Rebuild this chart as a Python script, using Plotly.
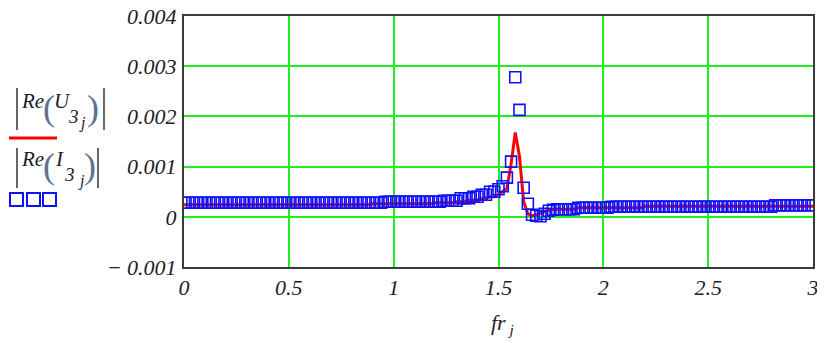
import numpy as np
import plotly.graph_objects as go

# x grid: fr_j
fr = np.linspace(0, 3, 151)

# |Re(U3_j)|  (red line)
re_u3 = [
    0.00024, 0.00024, 0.00024, 0.00024, 0.00024, 0.00024, 0.00024, 0.00024, 0.00024, 0.00024,
    0.00024, 0.00024, 0.00024, 0.00024, 0.00024, 0.00024, 0.00024, 0.00024, 0.00024, 0.00024,
    0.00024, 0.00024, 0.00024, 0.00024, 0.00024, 0.00024, 0.00024, 0.00024, 0.00024, 0.00024,
    0.00024, 0.00024, 0.00024, 0.00024, 0.00024, 0.00024, 0.00024, 0.00024, 0.00024, 0.00024,
    0.00024, 0.00024, 0.00024, 0.00024, 0.00024, 0.00026, 0.00026, 0.00026, 0.00026, 0.00026,
    0.00026, 0.00026, 0.00026, 0.00026, 0.00026, 0.00026, 0.00026, 0.00026, 0.00026, 0.00026,
    0.00028, 0.00028, 0.00028, 0.00028, 0.00028, 0.00030, 0.00030, 0.00030, 0.00033, 0.00033,
    0.00033, 0.00036, 0.00036, 0.00040, 0.00040, 0.00045, 0.00050, 0.00056, 0.00105, 0.00168,
    0.00120, 0.00030, 0.00006, 0.00002, 0.00004, 0.00008, 0.00011, 0.00013, 0.00015, 0.00015,
    0.00015, 0.00015, 0.00015, 0.00015, 0.00018, 0.00018, 0.00018, 0.00018, 0.00018, 0.00018,
    0.00018, 0.00018, 0.00018, 0.00018, 0.00018, 0.00018, 0.00018, 0.00018, 0.00018, 0.00018,
    0.00021, 0.00021, 0.00021, 0.00021, 0.00021, 0.00021, 0.00021, 0.00021, 0.00021, 0.00021,
    0.00021, 0.00021, 0.00021, 0.00021, 0.00021, 0.00021, 0.00021, 0.00021, 0.00021, 0.00021,
    0.00021, 0.00021, 0.00021, 0.00021, 0.00021, 0.00021, 0.00021, 0.00021, 0.00021, 0.00021,
    0.00021, 0.00021, 0.00021, 0.00021, 0.00021, 0.00021, 0.00021, 0.00021, 0.00021, 0.00021,
    0.00021,
]

# |Re(I3_j)|  (blue squares)
re_i3 = [
    0.00028, 0.00028, 0.00028, 0.00028, 0.00028, 0.00028, 0.00028, 0.00028, 0.00028, 0.00028,
    0.00028, 0.00028, 0.00028, 0.00028, 0.00028, 0.00028, 0.00028, 0.00028, 0.00028, 0.00028,
    0.00028, 0.00028, 0.00028, 0.00028, 0.00028, 0.00028, 0.00028, 0.00028, 0.00028, 0.00028,
    0.00028, 0.00028, 0.00028, 0.00028, 0.00028, 0.00028, 0.00028, 0.00028, 0.00028, 0.00028,
    0.00028, 0.00028, 0.00028, 0.00028, 0.00028, 0.00028, 0.00028, 0.00028, 0.00030, 0.00030,
    0.00030, 0.00030, 0.00030, 0.00030, 0.00030, 0.00030, 0.00030, 0.00030, 0.00030, 0.00030,
    0.00030, 0.00030, 0.00032, 0.00032, 0.00032, 0.00032, 0.00037, 0.00037, 0.00037, 0.00040,
    0.00040, 0.00044, 0.00044, 0.00050, 0.00050, 0.00055, 0.00061, 0.00078, 0.00110, 0.00278,
    0.00213, 0.00058, 0.00026, 0.00004, 0.00002, 0.00001, 0.00006, 0.00012, 0.00014, 0.00015,
    0.00015, 0.00015, 0.00015, 0.00015, 0.00018, 0.00018, 0.00018, 0.00018, 0.00018, 0.00018,
    0.00018, 0.00018, 0.00020, 0.00020, 0.00020, 0.00020, 0.00020, 0.00020, 0.00020, 0.00020,
    0.00020, 0.00020, 0.00020, 0.00020, 0.00020, 0.00020, 0.00020, 0.00020, 0.00020, 0.00020,
    0.00020, 0.00020, 0.00020, 0.00020, 0.00020, 0.00020, 0.00020, 0.00020, 0.00020, 0.00020,
    0.00020, 0.00020, 0.00020, 0.00020, 0.00020, 0.00020, 0.00020, 0.00020, 0.00020, 0.00020,
    0.00020, 0.00023, 0.00023, 0.00023, 0.00023, 0.00023, 0.00023, 0.00023, 0.00023, 0.00023,
    0.00023,
]

x_tickvals = [0, 0.5, 1, 1.5, 2, 2.5, 3]
x_ticktext = ["0", "0.5", "1", "1.5", "2", "2.5", "3"]
y_tickvals = [-0.001, 0, 0.001, 0.002, 0.003, 0.004]
y_ticktext = ["\u2212 0.001", "0", "0.001", "0.002", "0.003", "0.004"]

# page has an 8px body margin; plot area wanted at page x 184..813, y 16..267
W, H = 825, 343
OFF = 8
PL, PT, PR, PB = 184, 16, 813, 267
PW, PH = PR - PL, PB - PT
ML, MT = PL - OFF, PT - OFF
MR, MB = W - ML - PW, H - MT - PH


def px(x):
    return (x - PL) / PW


def py(y):
    return (PB - y) / PH


SERIF = "Liberation Serif"
TXT = "#1c1c2a"
GREEN = "#1ef01e"

fig = go.Figure()
fig.add_trace(go.Scatter(
    x=fr, y=re_u3, mode="lines",
    line=dict(color="#ff0000", width=3), showlegend=False,
))
fig.add_trace(go.Scatter(
    x=fr, y=re_i3, mode="markers",
    marker=dict(symbol="square-open", size=11, color="#1010ff", line=dict(width=1.6)),
    showlegend=False,
))

axis_common = dict(
    showline=True, mirror=True, linecolor="#3a3a3a", linewidth=2,
    showgrid=True, gridcolor=GREEN, gridwidth=2, zeroline=False, automargin=False,
    ticks="", ticklabeloverflow="allow",
    tickfont=dict(family=SERIF, size=22, color=TXT, style="italic"),
)

fig.update_xaxes(range=[0, 3], tickvals=x_tickvals, ticktext=x_ticktext, **axis_common)
fig.update_yaxes(range=[-0.001, 0.004], tickvals=y_tickvals, ticktext=y_ticktext,
                 ticklabelstandoff=1, **axis_common)

ann = []
shapes = []


def text(t, x, y, size, italic=True, color=TXT):
    ann.append(dict(
        text=t, x=px(x), y=py(y), xref="paper", yref="paper",
        xanchor="left", yanchor="middle", showarrow=False,
        font=dict(family=SERIF, size=size, color=color, style="italic" if italic else "normal"),
    ))


def vline(x, y0, y1, color="#333333", width=1.5):
    shapes.append(dict(type="line", xref="paper", yref="paper",
                       x0=px(x), x1=px(x), y0=py(y0), y1=py(y1),
                       line=dict(color=color, width=width)))


# x-axis title fr_j
ann.append(dict(
    text="<i>fr</i><sub><i> j</i></sub>", x=px(502), y=py(324), xref="paper", yref="paper",
    xanchor="center", yanchor="middle", showarrow=False,
    font=dict(family=SERIF, size=22, color=TXT),
))

PAREN = "#5d7390"
# |Re(U3_j)|
vline(17, 88, 130)
text("Re", 19, 101, 21)
text("(", 41, 108, 36, italic=False, color=PAREN)
text("U", 52, 101, 21)
text("3", 66, 116, 19)
text("j", 77, 123, 16)
text(")", 85, 108, 36, italic=False, color=PAREN)
vline(104, 88, 130)
shapes.append(dict(type="line", xref="paper", yref="paper",
                   x0=px(9), x1=px(57), y0=py(138), y1=py(138),
                   line=dict(color="#ff0000", width=3)))

# |Re(I3_j)|
vline(17, 148, 188)
text("Re", 19, 159, 21)
text("(", 41, 166, 36, italic=False, color=PAREN)
text("I", 53, 159, 21)
text("3", 62, 174, 19)
text("j", 76, 181, 16)
text(")", 82, 166, 36, italic=False, color=PAREN)
vline(98, 148, 188)
for x0 in (10, 27, 43):
    shapes.append(dict(type="rect", xref="paper", yref="paper",
                       x0=px(x0), x1=px(x0 + 13), y0=py(206), y1=py(193),
                       line=dict(color="#1010ff", width=2)))

fig.update_layout(
    width=W, height=H,
    margin=dict(l=ML, r=MR, t=MT, b=MB, pad=0, autoexpand=False),
    paper_bgcolor="white", plot_bgcolor="white",
    annotations=ann, shapes=shapes,
)

fig.write_html("out.html")
